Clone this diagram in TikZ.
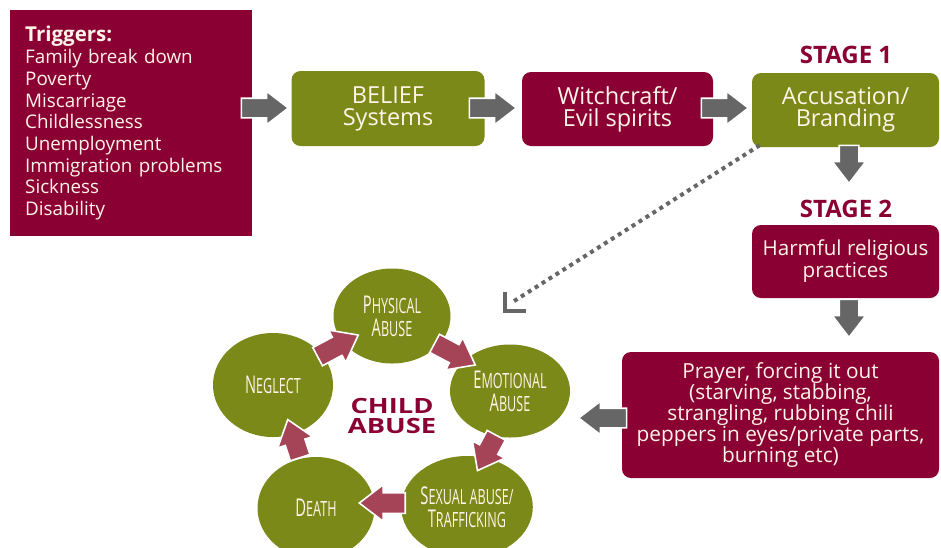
\documentclass[tikz,border=0pt]{standalone}
\usepackage{fontspec}
\setmainfont{Open Sans}
\newfontfamily\condfont[FakeStretch=0.6]{Open Sans}
\newfontfamily\widefont[FakeStretch=1.3]{Open Sans}
\usetikzlibrary{shapes.arrows,shapes.geometric}
\definecolor{crim}{HTML}{8B0033}
\definecolor{oliv}{HTML}{7A8918}
\definecolor{garrow}{HTML}{666666}
\definecolor{parrow}{HTML}{A64457}
\definecolor{cream}{HTML}{FFF4E8}
\tikzset{
  box/.style={rounded corners=9pt, text=cream, align=center, inner sep=0pt,
    font=\fontsize{23.5}{22}\selectfont},
  redbox/.style={box, fill=crim},
  greenbox/.style={box, fill=oliv},
  blockarr/.style={single arrow, draw=white, line width=1.6pt, inner sep=0pt,
    single arrow head extend=7pt, single arrow tip angle=75, minimum height=#1},
  garr/.style={blockarr=#1, fill=garrow},
  parr/.style={blockarr=#1, fill=parrow, single arrow head extend=8pt},
  circ/.style={ellipse, fill=oliv, text=cream, align=center, inner sep=0pt,
    font=\condfont\fontsize{21}{23}\selectfont},
  stage/.style={text=crim, font=\bfseries\fontsize{24}{24}\selectfont}
}
\newcommand{\bigfirst}[2]{{\fontsize{24.5}{23}\selectfont #1}#2}
\begin{document}
\begin{tikzpicture}[x=1pt,y=-1pt]
\useasboundingbox[fill=white] (0,0) rectangle (941,547);

% triggers
\node[fill=crim, text=cream, anchor=north west, minimum width=242pt, minimum height=226pt,
  inner xsep=15pt, inner ysep=0pt, text width=212pt, align=left,
  font=\fontsize{18.8}{21.7}\selectfont] (trig) at (10,10)
  {{\bfseries\fontsize{20.5}{21.7}\selectfont Triggers:}\\
   Family break down\\ Poverty\\ Miscarriage\\ Childlessness\\ Unemployment\\
   Immigration problems\\ Sickness\\ Disability};

\node[greenbox, minimum width=193pt, minimum height=75pt] (belief) at (388,108.5) {BELIEF\\Systems};
\node[redbox, minimum width=191pt, minimum height=74pt] (witch) at (617.5,109) {Witchcraft/\\Evil spirits};
\node[greenbox, minimum width=187pt, minimum height=74pt] (accu) at (845.5,110) {Accusation/\\Branding};
\node[stage] (s1) at (846,55) {STAGE 1};
\node[stage] (s2) at (846,209) {STAGE 2};
\node[redbox, minimum width=187pt, minimum height=73pt, font=\fontsize{20.6}{22}\selectfont] (harm) at (845.5,261.5) {Harmful religious\\practices};
\node[redbox, minimum width=317pt, minimum height=126pt, font=\fontsize{20.8}{21}\selectfont] (pray) at (780.5,415)
  {\raisebox{-4pt}{}Prayer, forcing it out\\(starving, stabbing,\\strangling, rubbing chili\\peppers in eyes/private parts,\\burning etc)};

% gray block arrows
\node[garr=47pt] (g1) at (258.5,108) {\rule{0pt}{18pt}};
\node[garr=47pt] (g2) at (486.5,108) {\rule{0pt}{18pt}};
\node[garr=47pt] (g3) at (718.5,108) {\rule{0pt}{18pt}};
\node[garr=38pt, rotate=-90] (g4) at (849,158) {\rule{0pt}{18pt}};
\node[garr=38pt, rotate=-90] (g5) at (849,312) {\rule{0pt}{18pt}};
\node[garr=48pt, rotate=180] (g6) at (609,418) {\rule{0pt}{18pt}};

% dotted connector
\coordinate (dend) at (511,303);
\draw[garrow, line width=4pt, dash pattern=on 4pt off 4.2pt] (accu.south west) ++(8,-2) -- (dend);
\draw[garrow, line width=4pt] (505,292) -- (505,311) -- (526,311);

% cycle
\node[circ, minimum width=117pt, minimum height=95pt] (phys) at (392,316) {\bigfirst{P}{HYSICAL}\\\bigfirst{A}{BUSE}};
\node[circ, minimum width=120pt, minimum height=93pt] (emo) at (510,391) {\bigfirst{E}{MOTIONAL}\\\bigfirst{A}{BUSE}};
\node[circ, minimum width=117pt, minimum height=102pt] (sex) at (467,507) {\bigfirst{S}{EXUAL ABUSE/}\\\bigfirst{T}{RAFFICKING}};
\node[circ, minimum width=117pt, minimum height=102pt] (death) at (316,508) {\bigfirst{D}{EATH}};
\node[circ, minimum width=120pt, minimum height=104pt] (negl) at (273,385) {\bigfirst{N}{EGLECT}};
\node[text=crim, align=center, font=\widefont\bfseries\fontsize{21}{19.5}\selectfont] (child) at (392,416) {CHILD\\ABUSE};

\node[parr=46pt, rotate=-28] (p1) at (449,351) {\rule{0pt}{19pt}};
\node[parr=40pt, rotate=-118] (p2) at (490,447) {\rule{0pt}{19pt}};
\node[parr=46pt, rotate=180] (p3) at (389,503) {\rule{0pt}{19pt}};
\node[parr=40pt, rotate=108] (p4) at (296,445) {\rule{0pt}{19pt}};
\node[parr=46pt, rotate=28] (p5) at (332,349) {\rule{0pt}{19pt}};
\end{tikzpicture}
\end{document}
